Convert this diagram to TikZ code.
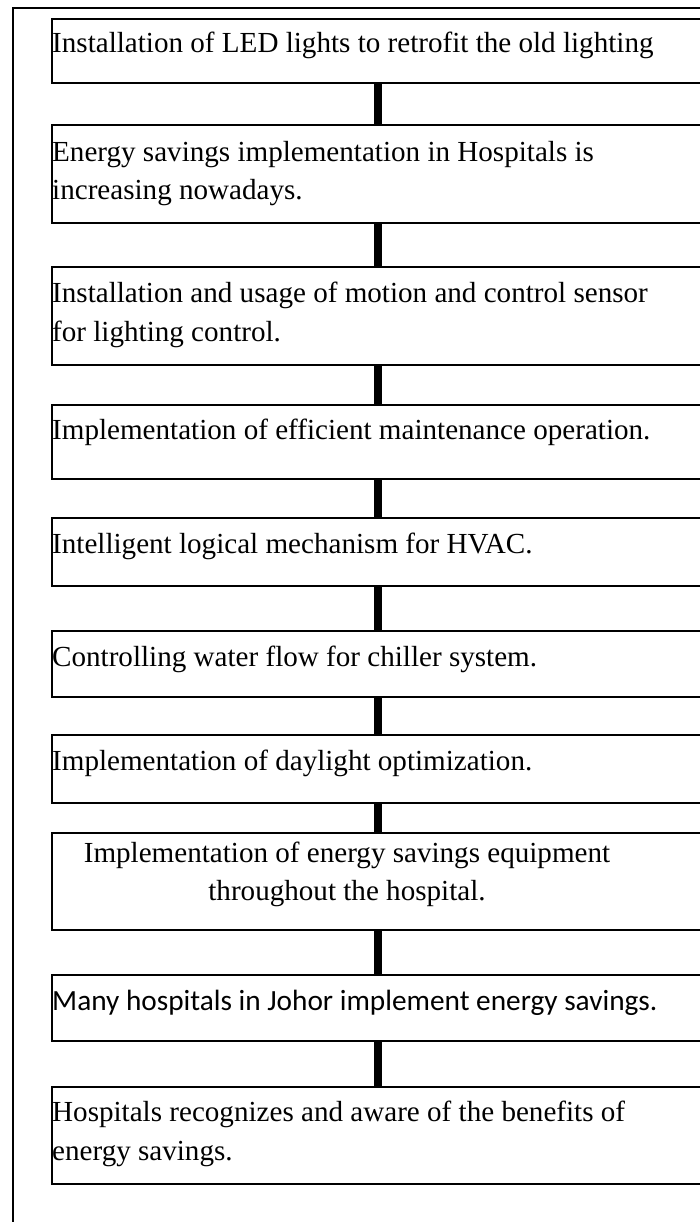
\documentclass[tikz,border=0pt]{standalone}
\usepackage{fontspec}
\setmainfont{Liberation Serif}
\newfontfamily\calfont{Carlito}
\begin{document}
\begin{tikzpicture}[x=1pt,y=-1pt,
  box/.style={draw, line width=1.8pt, rectangle, inner sep=0pt, anchor=north west, minimum width=652pt},
  txt/.style={anchor=base west, inner sep=0pt, font=\fontsize{29.1}{38.5}\selectfont},
  ctxt/.style={anchor=base, inner sep=0pt, font=\fontsize{29.1}{38.5}\selectfont},
  conn/.style={line width=8pt}]
\useasboundingbox (0,0) rectangle (700,1222);
\clip (0,0) rectangle (700,1222);
\draw[line width=2pt] (13,8) rectangle (760,1260);
% boxes
\node[box, minimum height=64pt] (b1) at (51,18) {};
\node[box, minimum height=98pt] (b2) at (51,124) {};
\node[box, minimum height=98pt] (b3) at (51,266) {};
\node[box, minimum height=74pt] (b4) at (51,404) {};
\node[box, minimum height=68pt] (b5) at (51,517) {};
\node[box, minimum height=66pt] (b6) at (51,630) {};
\node[box, minimum height=68pt] (b7) at (51,734) {};
\node[box, minimum height=97pt] (b8) at (51,832) {};
\node[box, minimum height=66pt] (b9) at (51,974) {};
\node[box, minimum height=97pt] (b10) at (51,1086) {};
% texts
\node[txt] (t1) at (52,53) {Installation of LED lights to retrofit the old lighting};
\node[txt] (t2a) at (52,161.5) {Energy savings implementation in Hospitals is};
\node[txt] (t2b) at (52,200) {increasing nowadays.};
\node[txt] (t3a) at (52,302.5) {Installation and usage of motion and control sensor};
\node[txt] (t3b) at (52,341) {for lighting control.};
\node[txt] (t4) at (52,439.5) {Implementation of efficient maintenance operation.};
\node[txt] (t5) at (52,553) {Intelligent logical mechanism for HVAC.};
\node[txt] (t6) at (52,666.5) {Controlling water flow for chiller system.};
\node[txt] (t7) at (52,770.5) {Implementation of daylight optimization.};
\node[ctxt] (t8a) at (347,862) {Implementation of energy savings equipment};
\node[ctxt] (t8b) at (347,900) {throughout the hospital.};
\node[txt, font=\calfont\fontsize{29.3}{38.5}\selectfont] (t9) at (52,1010) {Many hospitals in Johor implement energy savings.};
\node[txt] (t10a) at (52,1121.5) {Hospitals recognizes and aware of the benefits of};
\node[txt] (t10b) at (52,1160) {energy savings.};
% connectors
\foreach \a/\b in {b1/b2,b2/b3,b3/b4,b4/b5,b5/b6,b6/b7,b7/b8,b8/b9,b9/b10}
  \draw[conn] (\a.south) -- (\b.north);
\end{tikzpicture}
\end{document}
